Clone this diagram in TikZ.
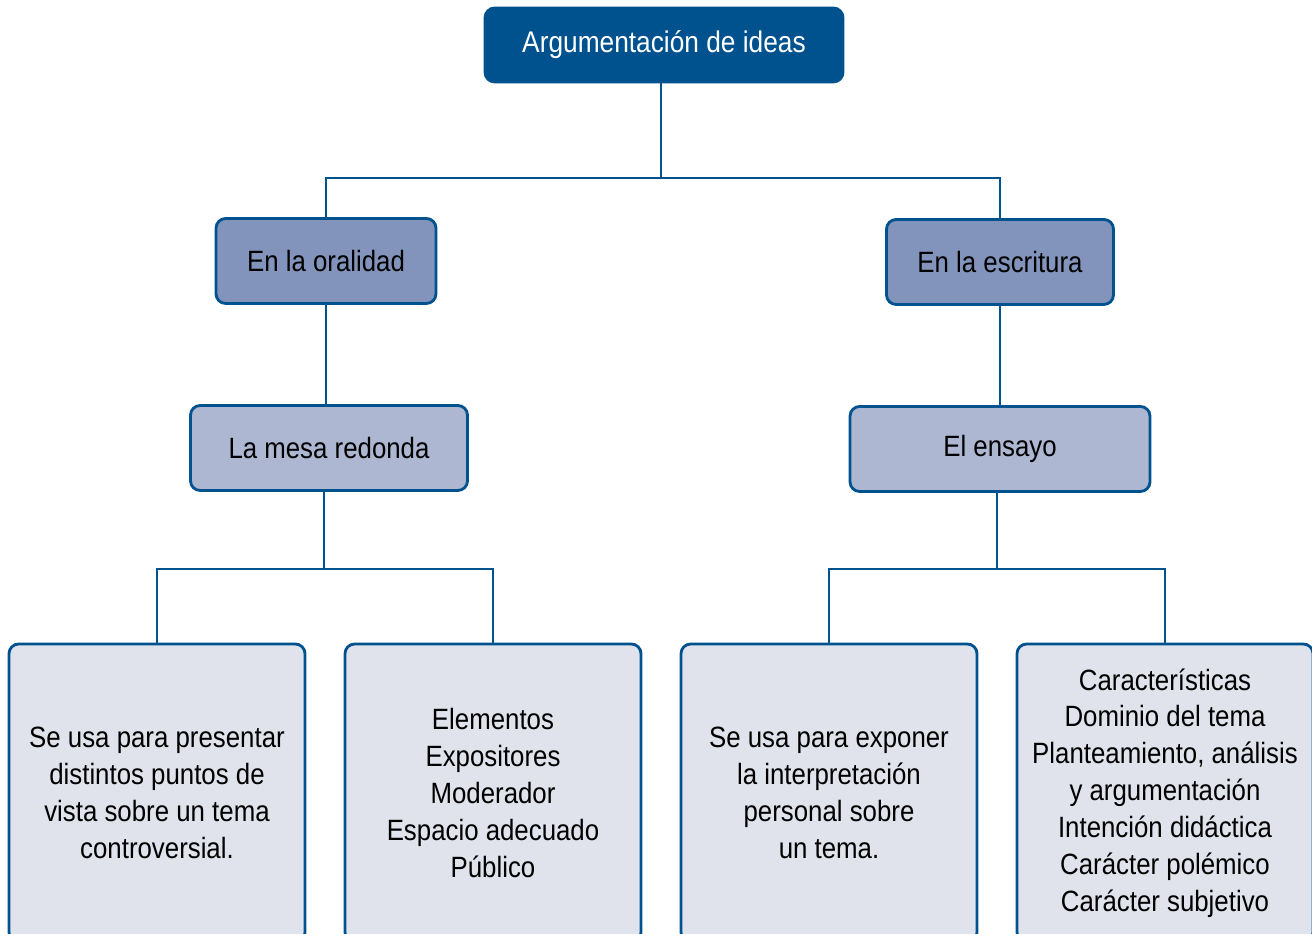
\documentclass[tikz,border=0pt]{standalone}
\usepackage{fontspec}
\setmainfont{Liberation Sans}[FakeStretch=0.88]
\usepackage{xcolor}
\usetikzlibrary{positioning}
\definecolor{mainblue}{RGB}{0,82,143}
\definecolor{midblue}{RGB}{130,148,188}
\definecolor{lightblue}{RGB}{173,183,210}
\definecolor{paleblue}{RGB}{224,227,236}

\begin{document}
\begin{tikzpicture}[
  box/.style     = {draw=mainblue, line width=1.6pt, rounded corners=5.5pt,
                    align=center, font=\fontsize{16.7}{21}\selectfont},
  rootbox/.style = {box, fill=mainblue, text=white, minimum width=7.16cm,
                    minimum height=1.48cm, font=\fontsize{17}{21}\selectfont},
  modebox/.style = {box, fill=midblue, minimum height=1.7cm},
  typebox/.style = {box, fill=lightblue, minimum height=1.7cm},
  infobox/.style = {box, fill=paleblue, minimum width=5.92cm,
                    minimum height=5.96cm},
  link/.style    = {draw=mainblue, line width=1.3pt}
]
\useasboundingbox (0,0) rectangle (26.24,18.68);
\clip (0,0) rectangle (26.24,18.68);

%% ---- TOP ----
\node[rootbox] (root) at (13.28,17.78) {Argumentación de ideas};

\node[modebox, minimum width=4.4cm]  (oral) at (6.52,13.46) {En la oralidad};
\node[modebox, minimum width=4.54cm] (escr) at (20.0,13.44) {En la escritura};

\coordinate (fork1) at (13.22,15.12);
\draw[link] (root.south -| fork1) -- (fork1);
\draw[link] (oral.north) |- (fork1) -| (escr.north);

%% ---- LEFT: ORALIDAD ----
\node[typebox, minimum width=5.54cm] (mesa) at (6.58,9.72) {La mesa redonda};
\draw[link] (oral) -- (oral |- mesa.north);

\node[infobox] (uso1) at (3.14,2.82)
  {Se usa para presentar\\distintos puntos de\\vista sobre un tema\\controversial.};
\node[infobox] (elem) at (9.86,2.82)
  {Elementos\\Expositores\\Moderador\\Espacio adecuado\\Público};

\coordinate (fork2) at (6.48,7.30);
\draw[link] (mesa.south -| fork2) -- (fork2);
\draw[link] (uso1.north) |- (fork2) -| (elem.north);

%% ---- RIGHT: ESCRITURA ----
\node[typebox, minimum width=6.0cm] (ensayo) at (20.0,9.70) {El ensayo};
\draw[link] (escr) -- (escr |- ensayo.north);

\node[infobox] (uso2) at (16.58,2.82)
  {Se usa para exponer\\la interpretación\\personal sobre\\un tema.};
\node[infobox] (carac) at (23.30,2.82)
  {Características\\Dominio del tema\\Planteamiento, análisis\\y argumentación\\Intención didáctica\\Carácter polémico\\Carácter subjetivo};

\coordinate (fork3) at (19.94,7.30);
\draw[link] (ensayo.south -| fork3) -- (fork3);
\draw[link] (uso2.north) |- (fork3) -| (carac.north);

\end{tikzpicture}
\end{document}
